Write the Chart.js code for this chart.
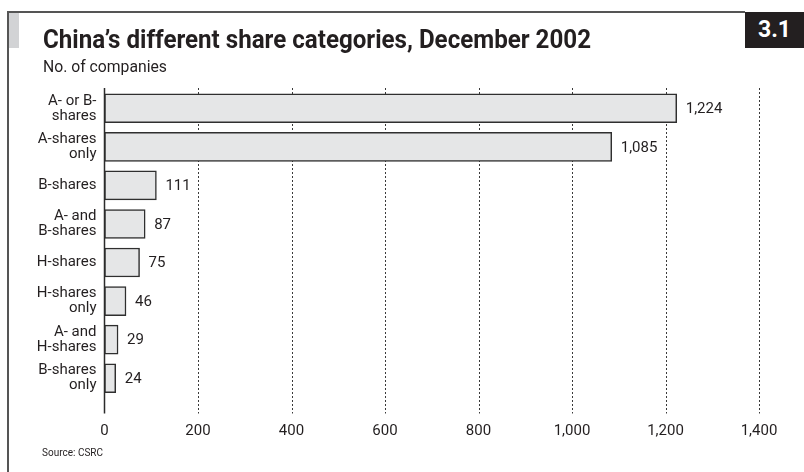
<!DOCTYPE html>
<html>
<head>
<meta charset="utf-8">
<script src="https://cdn.jsdelivr.net/npm/chart.js@4/dist/chart.umd.min.js"></script>
<style>
  html, body { margin: 0; padding: 0; background: #fff; }
  #wrap { position: relative; width: 804px; height: 472px; background: #fff; overflow: hidden; font-family: Roboto, "Open Sans", sans-serif; color: #231f20; }
  #c { position: absolute; left: 0; top: 0; }
  .frame-top { position: absolute; left: 7px; top: 11px; width: 738px; height: 1.5px; background: #555; }
  .frame-left { position: absolute; left: 7px; top: 11px; width: 1.5px; height: 470px; background: #555; }
  .tab { position: absolute; left: 9px; top: 13px; width: 10px; height: 35px; background: #d2d3d5; }
  .badge { position: absolute; left: 745px; top: 12px; width: 59px; height: 36px; background: #231f20; color: #fff; font-weight: 700; font-size: 23px; line-height: 36px; text-align: center; }
  .txt { position: absolute; white-space: nowrap; line-height: 1; transform-origin: 0 0; display: inline-block; }
  #title { left: 43px; top: 26px; font-size: 26px; font-weight: 700; }
  #subtitle { left: 43px; top: 57.5px; font-size: 17px; font-weight: 400; }
  #source { left: 42px; top: 448px; font-size: 10.5px; }
</style>
</head>
<body>
<div id="wrap">
  <canvas id="c" width="804" height="472"></canvas>
  <div class="frame-top"></div>
  <div class="frame-left"></div>
  <div class="tab"></div>
  <div class="badge">3.1</div>
  <span class="txt" id="title" data-w="548">China’s different share categories, December 2002</span>
  <span class="txt" id="subtitle" data-w="124">No. of companies</span>
  <span class="txt" id="source" data-w="61">Source: CSRC</span>
</div>
<script>
// Share categories (top to bottom) and number of listed companies in each
const categories = [
  ["A- or B-", "shares"],
  ["A-shares", "only"],
  "B-shares",
  ["A- and", "B-shares"],
  "H-shares",
  ["H-shares", "only"],
  ["A- and", "H-shares"],
  ["B-shares", "only"]
];
const companies = [1224, 1085, 111, 87, 75, 46, 29, 24];
const xTickValues = [0, 200, 400, 600, 800, 1000, 1200, 1400];

const fmt = v => Number(v).toLocaleString('en-US');
const INK = '#231f20';
const FONT = 'Roboto, "Open Sans", sans-serif';

// Condense the heading texts to their set widths
document.querySelectorAll('.txt[data-w]').forEach(el => {
  const w = el.getBoundingClientRect().width;
  const target = parseFloat(el.dataset.w);
  if (w > 0) el.style.transform = 'scaleX(' + (target / w) + ')';
});

// Dotted vertical gridlines behind the bars, running a little below the plot
const gridPlugin = {
  id: 'dottedGrid',
  beforeDatasetsDraw(chart) {
    const { ctx, chartArea, scales } = chart;
    const x = scales.x;
    ctx.save();
    ctx.strokeStyle = '#3a3a3a';
    ctx.lineWidth = 1;
    ctx.setLineDash([2, 2]);
    x.ticks.forEach(t => {
      if (t.value === 0) return;
      const px = Math.round(x.getPixelForValue(t.value)) + 0.5;
      ctx.beginPath();
      ctx.moveTo(px, chartArea.top - 1);
      ctx.lineTo(px, chartArea.bottom + 16);
      ctx.stroke();
    });
    ctx.restore();
  },
  afterDatasetsDraw(chart) {
    const { ctx, chartArea, scales } = chart;
    const x = scales.x;
    // solid zero axis
    const px0 = x.getPixelForValue(0);
    ctx.save();
    ctx.strokeStyle = '#2b2b2b';
    ctx.lineWidth = 1.5;
    ctx.beginPath();
    ctx.moveTo(px0, chartArea.top - 1);
    ctx.lineTo(px0, chartArea.bottom + 16);
    ctx.stroke();
    // value labels to the right of each bar
    ctx.fillStyle = INK;
    ctx.font = '15px ' + FONT;
    ctx.textAlign = 'left';
    ctx.textBaseline = 'middle';
    const meta = chart.getDatasetMeta(0);
    meta.data.forEach((bar, i) => {
      ctx.fillText(fmt(companies[i]), bar.x + 9, bar.y + 1);
    });
    ctx.restore();
  }
};

new Chart(document.getElementById('c'), {
  type: 'bar',
  data: {
    labels: categories,
    datasets: [{
      data: companies,
      backgroundColor: '#e5e6e7',
      borderColor: '#2f2f2f',
      borderWidth: 1.5,
      borderSkipped: false,
      barThickness: 29
    }]
  },
  options: {
    indexAxis: 'y',
    responsive: false,
    animation: false,
    devicePixelRatio: 1,
    layout: { padding: { top: 89, right: 45, left: 0, bottom: 0 } },
    plugins: {
      legend: { display: false },
      tooltip: { enabled: false }
    },
    scales: {
      x: {
        min: 0,
        max: 1400,
        afterBuildTicks(scale) { scale.ticks = xTickValues.map(v => ({ value: v })); },
        afterFit(scale) { scale.height = 74.5; },
        grid: { display: false, drawTicks: false },
        border: { display: false },
        ticks: {
          padding: 25,
          color: INK,
          font: { family: FONT, size: 15 },
          callback: v => fmt(v),
          maxRotation: 0
        }
      },
      y: {
        afterFit(scale) { scale.width = 104.5; },
        grid: { display: false, drawTicks: false },
        border: { display: false },
        ticks: {
          padding: 8,
          color: INK,
          font: { family: FONT, size: 15, lineHeight: 1 }
        }
      }
    }
  },
  plugins: [gridPlugin]
});
</script>
</body>
</html>
